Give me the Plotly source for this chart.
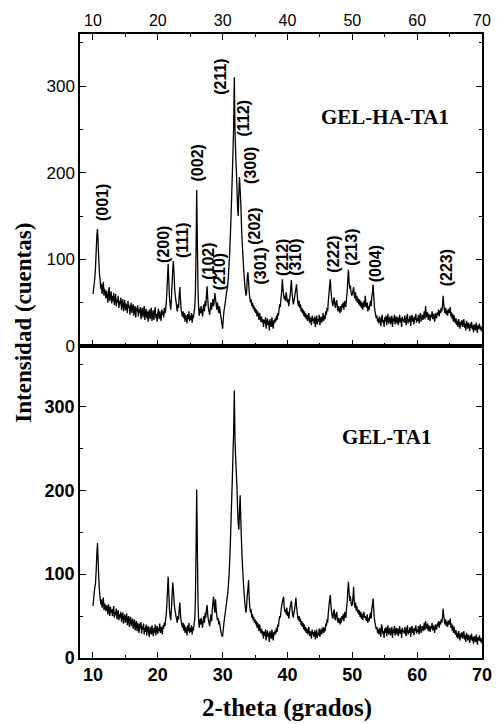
import plotly.graph_objects as go
from plotly.subplots import make_subplots

# 2-theta sampling: 10.0 to 70.0 degrees in 0.1 degree steps
theta_start = 10.0
theta_step = 0.1

# GEL-HA-TA1 intensities (counts), one row per degree
gel_ha_ta1 = [
    60, 66, 72, 80, 92, 110, 128, 135, 118, 100,      # 10
    84, 76, 66, 72, 60, 68, 74, 58, 66, 62,           # 11
    55, 64, 58, 50, 62, 68, 52, 57, 63, 49,           # 12
    58, 52, 61, 47, 55, 60, 46, 54, 50, 58,           # 13
    44, 52, 48, 56, 42, 50, 54, 40, 47, 53,           # 14
    41, 49, 45, 38, 52, 44, 47, 36, 45, 50,           # 15
    38, 44, 48, 35, 42, 46, 33, 44, 40, 47,           # 16
    34, 42, 38, 45, 31, 40, 44, 33, 39, 46,           # 17
    30, 38, 43, 32, 40, 28, 37, 42, 31, 38,           # 18
    44, 29, 36, 41, 30, 39, 45, 32, 37, 28,           # 19
    38, 43, 31, 40, 35, 29, 42, 36, 40, 33,           # 20
    44, 38, 42, 50, 62, 80, 95, 74, 56, 48,           # 21
    42, 55, 72, 88, 98, 84, 66, 58, 52, 46,           # 22
    40, 48, 44, 58, 68, 54, 42, 38, 34, 40,           # 23
    32, 38, 28, 36, 33, 26, 37, 31, 40, 29,           # 24
    35, 30, 38, 27, 36, 32, 40, 44, 62, 110,          # 25
    180, 120, 65, 42, 35, 44, 38, 46, 40, 34,         # 26
    42, 48, 40, 52, 46, 58, 69, 55, 44, 40,           # 27
    36, 44, 50, 42, 48, 54, 46, 52, 61, 55,           # 28
    48, 42, 50, 44, 38, 46, 40, 35, 30, 25,           # 29
    20, 32, 40, 45, 50, 56, 62, 66, 72, 82,           # 30
    95, 110, 130, 150, 175, 200, 225, 255, 310, 250,  # 31
    225, 205, 185, 160, 150, 175, 195, 180, 165, 140, # 32
    122, 108, 95, 82, 72, 64, 58, 62, 80, 85,         # 33
    74, 62, 55, 50, 54, 46, 50, 43, 47, 40,           # 34
    44, 38, 42, 34, 40, 36, 30, 38, 33, 28,           # 35
    34, 27, 31, 22, 30, 26, 33, 20, 28, 32,           # 36
    24, 29, 18, 31, 26, 22, 33, 25, 20, 30,           # 37
    26, 32, 28, 35, 30, 38, 35, 42, 48, 45,           # 38
    55, 62, 77, 66, 60, 54, 58, 52, 62, 56,           # 39
    50, 54, 46, 52, 58, 66, 76, 62, 54, 48,           # 40
    52, 56, 62, 66, 71, 60, 50, 46, 52, 44,           # 41
    48, 40, 44, 38, 42, 35, 40, 33, 38, 31,           # 42
    36, 29, 34, 38, 27, 33, 30, 24, 35, 29,           # 43
    32, 26, 34, 22, 30, 35, 25, 31, 28, 36,           # 44
    24, 30, 34, 27, 32, 38, 29, 35, 31, 40,           # 45
    36, 44, 40, 52, 60, 70, 77, 64, 56, 50,           # 46
    46, 52, 56, 48, 44, 50, 53, 45, 40, 46,           # 47
    42, 38, 46, 40, 48, 44, 50, 42, 52, 47,           # 48
    45, 55, 62, 76, 88, 74, 66, 70, 62, 58,           # 49
    60, 64, 68, 58, 55, 62, 52, 58, 50, 55,           # 50
    48, 54, 46, 52, 44, 50, 42, 48, 52, 45,           # 51
    58, 48, 44, 50, 40, 46, 42, 48, 52, 46,           # 52
    56, 62, 71, 58, 46, 40, 36, 32, 35, 28,           # 53
    32, 26, 34, 30, 23, 31, 36, 27, 30, 22,           # 54
    33, 28, 35, 24, 31, 37, 26, 30, 34, 25,           # 55
    30, 35, 22, 32, 28, 36, 25, 31, 34, 26,           # 56
    33, 24, 30, 36, 27, 32, 22, 34, 29, 31,           # 57
    27, 35, 30, 24, 33, 37, 26, 31, 28, 35,           # 58
    23, 32, 36, 28, 33, 25, 34, 30, 37, 27,           # 59
    32, 29, 36, 26, 34, 38, 28, 33, 36, 30,           # 60
    35, 40, 31, 46, 36, 33, 39, 30, 37, 34,           # 61
    29, 36, 33, 40, 31, 37, 34, 28, 38, 35,           # 62
    32, 39, 36, 42, 34, 41, 38, 44, 40, 46,           # 63
    58, 48, 42, 38, 44, 36, 41, 35, 43, 38,           # 64
    40, 45, 34, 39, 31, 37, 28, 35, 30, 26,           # 65
    32, 24, 29, 22, 31, 26, 20, 28, 24, 30,           # 66
    22, 27, 31, 21, 26, 18, 29, 24, 20, 27,           # 67
    23, 17, 26, 21, 28, 19, 24, 16, 25, 22,           # 68
    18, 27, 21, 15, 24, 20, 26, 19, 23, 17,           # 69
    22,                                               # 70
]

# GEL-TA1 intensities (counts), one row per degree
gel_ta1 = [
    62, 70, 78, 85, 90, 105, 125, 137, 115, 95,       # 10
    80, 72, 64, 70, 60, 66, 72, 57, 65, 61,           # 11
    56, 63, 59, 52, 64, 57, 50, 61, 54, 58,           # 12
    50, 57, 62, 48, 55, 51, 59, 46, 53, 57,           # 13
    45, 52, 48, 55, 43, 50, 54, 41, 48, 52,           # 14
    42, 48, 53, 39, 46, 50, 37, 45, 49, 38,           # 15
    43, 47, 35, 41, 46, 33, 40, 44, 32, 42,           # 16
    37, 30, 41, 35, 43, 29, 38, 34, 41, 28,           # 17
    36, 31, 40, 27, 35, 38, 30, 25, 37, 33,           # 18
    28, 39, 32, 26, 36, 30, 40, 27, 34, 38,           # 19
    29, 36, 32, 41, 30, 37, 34, 28, 39, 35,           # 20
    42, 38, 46, 52, 64, 82, 97, 76, 58, 50,           # 21
    45, 58, 74, 90, 82, 68, 60, 55, 50, 46,           # 22
    42, 50, 46, 58, 66, 52, 44, 40, 36, 42,           # 23
    33, 40, 30, 37, 34, 27, 39, 32, 42, 30,           # 24
    36, 31, 39, 28, 37, 33, 41, 46, 70, 130,          # 25
    201, 130, 68, 44, 36, 46, 40, 48, 42, 36,         # 26
    44, 50, 42, 54, 48, 58, 63, 52, 45, 42,           # 27
    38, 46, 52, 44, 58, 66, 73, 60, 54, 70,           # 28
    58, 50, 45, 48, 40, 44, 38, 33, 29, 26,           # 29
    26, 34, 42, 48, 54, 60, 66, 72, 78, 88,           # 30
    100, 118, 140, 165, 190, 215, 245, 270, 319, 262, # 31
    240, 222, 205, 180, 160, 153, 175, 194, 165, 140, # 32
    120, 104, 90, 78, 68, 60, 54, 62, 75, 82,         # 33
    93, 70, 60, 54, 58, 48, 52, 45, 49, 42,           # 34
    46, 40, 44, 36, 42, 38, 32, 40, 35, 30,           # 35
    35, 28, 32, 23, 31, 27, 34, 21, 29, 33,           # 36
    25, 30, 19, 32, 27, 23, 34, 26, 21, 31,           # 37
    27, 33, 29, 36, 31, 40, 37, 45, 50, 48,           # 38
    56, 62, 66, 70, 73, 60, 55, 58, 52, 60,           # 39
    50, 55, 47, 53, 60, 64, 68, 58, 52, 48,           # 40
    54, 58, 64, 72, 62, 54, 48, 45, 50, 43,           # 41
    47, 39, 44, 37, 42, 34, 40, 32, 37, 30,           # 42
    35, 28, 33, 37, 26, 32, 29, 23, 34, 28,           # 43
    31, 25, 33, 22, 29, 34, 24, 30, 27, 35,           # 44
    25, 31, 35, 28, 33, 37, 30, 36, 32, 41,           # 45
    38, 46, 42, 54, 62, 70, 75, 63, 55, 50,           # 46
    47, 54, 58, 48, 45, 52, 55, 46, 42, 48,           # 47
    43, 40, 48, 42, 50, 46, 52, 44, 55, 50,           # 48
    48, 58, 66, 80, 91, 78, 68, 74, 66, 62,           # 49
    64, 72, 85, 66, 60, 66, 56, 62, 54, 58,           # 50
    52, 57, 49, 55, 47, 53, 45, 51, 55, 48,           # 51
    50, 46, 44, 52, 42, 48, 44, 50, 54, 47,           # 52
    58, 64, 71, 58, 47, 42, 38, 34, 37, 30,           # 53
    34, 28, 36, 31, 25, 40, 37, 29, 32, 24,           # 54
    35, 30, 37, 26, 33, 39, 28, 32, 36, 27,           # 55
    32, 37, 24, 34, 30, 38, 27, 33, 36, 28,           # 56
    35, 26, 32, 38, 29, 34, 24, 36, 31, 33,           # 57
    29, 37, 32, 26, 35, 39, 28, 33, 30, 37,           # 58
    25, 34, 38, 30, 35, 27, 36, 32, 39, 29,           # 59
    34, 31, 38, 28, 36, 40, 30, 35, 38, 32,           # 60
    37, 42, 33, 44, 38, 35, 41, 32, 39, 36,           # 61
    31, 38, 35, 42, 33, 39, 36, 30, 40, 37,           # 62
    34, 41, 38, 44, 36, 43, 40, 46, 42, 48,           # 63
    59, 50, 44, 40, 46, 38, 43, 37, 45, 40,           # 64
    42, 47, 36, 41, 33, 39, 30, 37, 32, 28,           # 65
    33, 25, 30, 23, 32, 27, 21, 29, 25, 31,           # 66
    23, 28, 32, 22, 27, 19, 30, 25, 21, 28,           # 67
    24, 18, 27, 22, 29, 20, 25, 17, 26, 23,           # 68
    19, 28, 22, 16, 25, 21, 27, 20, 24, 18,           # 69
    23,                                               # 70
]

two_theta = [round(theta_start + i * theta_step, 1) for i in range(len(gel_ha_ta1))]

# Miller indices of the hydroxyapatite reflections and where each label sits
hkl_labels = ["(001)", "(200)", "(111)", "(002)", "(102)", "(210)", "(211)",
              "(112)", "(300)", "(202)", "(301)", "(212)", "(310)", "(222)",
              "(213)", "(004)", "(223)"]
hkl_x = [11.4, 20.85, 23.7, 26.1, 27.7, 29.55, 29.65,
         33.2, 34.4, 34.9, 35.8, 39.2, 41.2, 47.1,
         49.9, 53.6, 64.5]
hkl_y = [165, 117, 122, 211, 98, 86, 311,
         263, 208, 138, 92, 102, 102, 106,
         114, 95, 90]

x_ticks = [10, 20, 30, 40, 50, 60, 70]
y_ticks = [0, 100, 200, 300]

SANS = "Liberation Sans, Arial, sans-serif"
SERIF = "Liberation Serif, Times New Roman, serif"

fig = make_subplots(rows=2, cols=1, vertical_spacing=0)

# Keep every sample point (no line simplification) so the noise stays visible
pattern_line = dict(color="black", width=1.3, simplify=False)
fig.add_trace(go.Scatter(x=two_theta, y=gel_ha_ta1, mode="lines",
                         line=pattern_line, showlegend=False),
              row=1, col=1)
fig.add_trace(go.Scatter(x=two_theta, y=gel_ta1, mode="lines",
                         line=pattern_line, showlegend=False),
              row=2, col=1)

axis_common = dict(showline=True, linecolor="black", linewidth=1.5,
                   ticks="inside", ticklen=6, tickwidth=1.2, tickcolor="black",
                   showgrid=False, zeroline=False)

fig.update_layout(
    xaxis=dict(**axis_common, domain=[0, 1], range=[8, 70], side="top",
               anchor="y", mirror="ticks", tickvals=x_ticks,
               minor=dict(ticks="inside", ticklen=3, dtick=5, tick0=0,
                          tickcolor="black", tickwidth=1.2),
               tickfont=dict(family=SANS, size=16, color="black")),
    yaxis=dict(**axis_common, domain=[0.5, 1], range=[0, 360], anchor="x",
               mirror="ticks", tickvals=y_ticks,
               minor=dict(ticks="inside", ticklen=3, dtick=50, tick0=0,
                          tickcolor="black", tickwidth=1.2),
               tickfont=dict(family=SANS, size=17, color="black")),
    xaxis2=dict(**axis_common, domain=[0, 1], range=[8, 70], side="bottom",
                anchor="y2", mirror=True, tickvals=x_ticks,
                minor=dict(ticks="inside", ticklen=3, dtick=5, tick0=0,
                           tickcolor="black", tickwidth=1.2),
                tickfont=dict(family=SANS, size=18, color="black", weight="bold")),
    yaxis2=dict(**axis_common, domain=[0, 0.5], range=[0, 372], anchor="x2",
                mirror="ticks", tickvals=y_ticks,
                minor=dict(ticks="inside", ticklen=3, dtick=50, tick0=0,
                           tickcolor="black", tickwidth=1.2),
                tickfont=dict(family=SANS, size=18, color="black", weight="bold")),
    width=504, height=724,
    margin=dict(l=80, r=14, t=34, b=66),
    paper_bgcolor="white", plot_bgcolor="white",
)

# Reflection labels, written vertically above the peaks
for lab, xv, yv in zip(hkl_labels, hkl_x, hkl_y):
    fig.add_annotation(x=xv, y=yv, xref="x", yref="y", text=lab,
                       textangle=-90, showarrow=False,
                       font=dict(family=SANS, size=16, color="black", weight="bold"))

# Sample names
fig.add_annotation(x=55.0, y=264, xref="x", yref="y", text="GEL-HA-TA1",
                   showarrow=False,
                   font=dict(family=SERIF, size=21, color="black", weight="bold"))
fig.add_annotation(x=55.3, y=263, xref="x2", yref="y2", text="GEL-TA1",
                   showarrow=False,
                   font=dict(family=SERIF, size=21, color="black", weight="bold"))

# Axis titles (paper coordinates span the plotting area)
fig.add_annotation(x=-0.140, y=0.537, xref="paper", yref="paper",
                   xanchor="center", yanchor="middle",
                   text="Intensidad (cuentas)", textangle=-90, showarrow=False,
                   font=dict(family=SERIF, size=23, color="black", weight="bold"))
fig.add_annotation(x=0.515, y=-0.080, xref="paper", yref="paper",
                   xanchor="center", yanchor="middle",
                   text="2-theta (grados)", showarrow=False,
                   font=dict(family=SERIF, size=25, color="black", weight="bold"))

fig.write_html("out.html")
